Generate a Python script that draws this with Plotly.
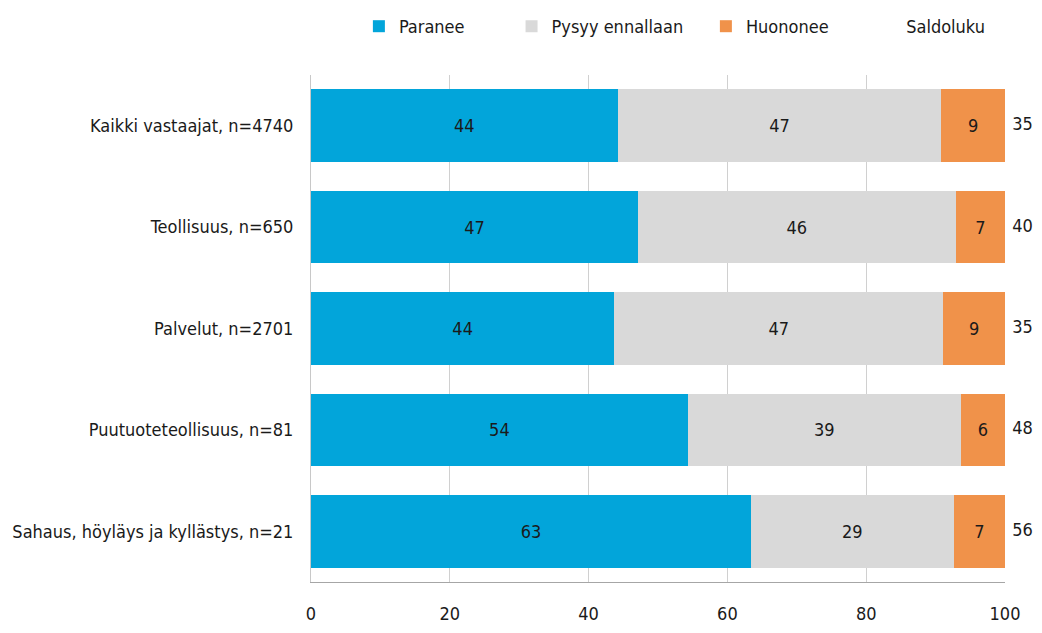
import plotly.graph_objects as go

# categories, top to bottom
categories = [
    "Kaikki vastaajat, n=4740",
    "Teollisuus, n=650",
    "Palvelut, n=2701",
    "Puutuoteteollisuus, n=81",
    "Sahaus, höyläys ja kyllästys, n=21",
]
paranee = [44.2, 47.1, 43.7, 54.3, 63.4]
pysyy = [46.6, 45.8, 47.4, 39.3, 29.2]
huononee = [9.2, 7.1, 8.9, 6.4, 7.4]
saldoluku = [35, 40, 35, 48, 56]

font_family = "DejaVu Sans Condensed, sans-serif"
text_font = dict(family=font_family, size=18, color="#1a1a1a")

fig = go.Figure()

series = [
    ("Paranee", paranee, "#02a5da", "legend"),
    ("Pysyy ennallaan", pysyy, "#d9d9d9", "legend2"),
    ("Huononee", huononee, "#f0924a", "legend3"),
]
for name, vals, color, leg in series:
    fig.add_trace(go.Bar(
        y=categories,
        x=vals,
        name=name,
        legend=leg,
        showlegend=True,
        orientation="h",
        marker=dict(color=color, line=dict(width=0)),
        texttemplate="%{x:.0f}",
        textposition="inside",
        insidetextanchor="middle",
        textfont=text_font,
        hoverinfo="skip",
    ))

# saldo numbers to the right of the bars
fig.add_trace(go.Scatter(
    y=categories,
    x=[100] * len(categories),
    mode="markers+text",
    name="Saldoluku",
    legend="legend4",
    showlegend=True,
    text=[str(v) for v in saldoluku],
    textposition="middle right",
    textfont=text_font,
    marker=dict(size=10, color="rgba(0,0,0,0)"),
    cliponaxis=False,
    hoverinfo="skip",
))


def legend_at(x):
    return dict(
        orientation="h",
        x=x,
        xanchor="left",
        y=1.0,
        yref="container",
        yanchor="top",
        font=text_font,
        itemwidth=30,
        bgcolor="rgba(0,0,0,0)",
    )


# page body adds an 8px margin, so the figure is a bit smaller than the window
fig.update_layout(
    barmode="stack",
    bargap=0.285,
    width=1034,
    height=625,
    margin=dict(l=303, r=37, t=67, b=51),
    paper_bgcolor="white",
    plot_bgcolor="white",
    font=text_font,
    showlegend=True,
    legend=legend_at(0.069),
    legend2=legend_at(0.289),
    legend3=legend_at(0.569),
    legend4=legend_at(0.800),
)

fig.update_xaxes(
    range=[0, 100.001],
    tickvals=[0, 20, 40, 60, 80, 100],
    showgrid=True,
    gridcolor="#d0d0d0",
    gridwidth=1,
    showline=True,
    linecolor="#a6a6a6",
    linewidth=1,
    zeroline=False,
    ticks="",
    ticklabelstandoff=15,
    tickfont=text_font,
    automargin=False,
    fixedrange=True,
)
fig.update_yaxes(
    autorange="reversed",
    showline=True,
    linecolor="#c8c8c8",
    linewidth=1,
    showgrid=False,
    ticks="",
    ticklabelstandoff=13,
    tickfont=text_font,
    automargin=False,
    fixedrange=True,
)

fig.write_html("out.html")
